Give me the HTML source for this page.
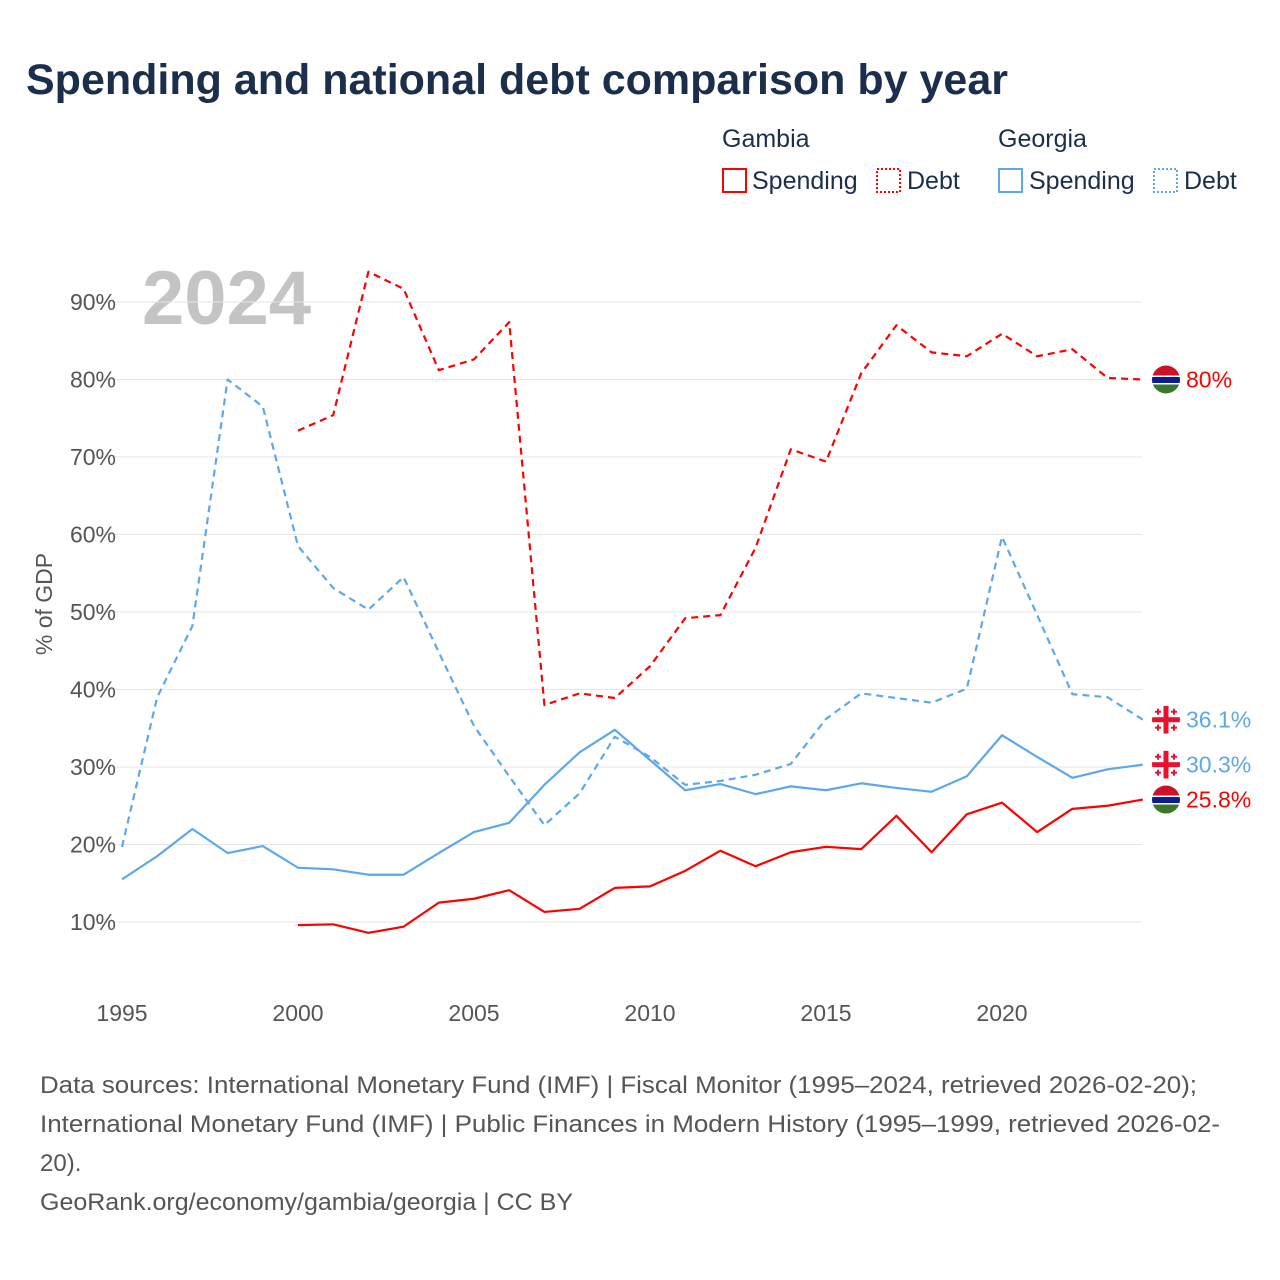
<!DOCTYPE html>
<html><head><meta charset="utf-8">
<style>
body{margin:0;background:#fff;font-family:"Liberation Sans",sans-serif;}
#wrap{position:relative;width:1280px;height:1280px;overflow:hidden;}
</style></head><body>
<div id="wrap">
<svg id="chart" width="1280" height="1280" xmlns="http://www.w3.org/2000/svg">
<text x="26" y="94" font-size="43" font-weight="bold" fill="#1b2f4d">Spending and national debt comparison by year</text>
<g font-size="25" fill="#1b2f4d">
<text x="722" y="147">Gambia</text>
<text x="998" y="147">Georgia</text>
<g><rect x="723" y="169" width="23" height="23" fill="none" stroke="#f00" stroke-width="2"/><text x="752" y="189">Spending</text></g>
<g><rect x="877" y="169" width="23" height="23" fill="none" stroke="#f00" stroke-width="2" stroke-dasharray="2,2"/><text x="907" y="189">Debt</text></g>
<g><rect x="999" y="169" width="23" height="23" fill="none" stroke="#5ea8ea" stroke-width="2"/><text x="1029" y="189">Spending</text></g>
<g><rect x="1154" y="169" width="23" height="23" fill="none" stroke="#5ea8ea" stroke-width="2" stroke-dasharray="2,2"/><text x="1184" y="189">Debt</text></g>
</g>
<text x="142" y="324" font-size="76" font-weight="bold" fill="#c4c4c4">2024</text>
<g id="grid"></g><g id="series"></g><g id="ends"></g>
<text transform="translate(52,604) rotate(-90)" text-anchor="middle" font-size="23" fill="#555">% of GDP</text>
<g font-size="24" fill="#555">
<text x="40" y="1093" textLength="1157" lengthAdjust="spacingAndGlyphs">Data sources: International Monetary Fund (IMF) | Fiscal Monitor (1995–2024, retrieved 2026-02-20);</text>
<text x="40" y="1132" textLength="1180" lengthAdjust="spacingAndGlyphs">International Monetary Fund (IMF) | Public Finances in Modern History (1995–1999, retrieved 2026-02-</text>
<text x="40" y="1171">20).</text>
<text x="40" y="1210" textLength="533" lengthAdjust="spacingAndGlyphs">GeoRank.org/economy/gambia/georgia | CC BY</text>
</g>
</svg>
</div>
<script>
const years=[];for(let y=1995;y<=2024;y++)years.push(y);
const yTicks=[10,20,30,40,50,60,70,80,90];
const xTicks=[1995,2000,2005,2010,2015,2020];
const gambiaSpending=[null,null,null,null,null,9.6,9.7,8.6,9.4,12.5,13,14.1,11.3,11.7,14.4,14.6,16.6,19.2,17.2,19,19.7,19.4,23.7,19,23.9,25.4,21.6,24.6,25,25.8];
const gambiaDebt=[null,null,null,null,null,73.4,75.4,93.9,91.7,81.2,82.6,87.4,38,39.5,38.9,43,49.2,49.6,58.3,71,69.4,80.8,87,83.5,83,85.9,83,83.9,80.2,80];
const georgiaSpending=[15.5,18.5,22,18.9,19.8,17,16.8,16.1,16.1,18.9,21.6,22.8,27.7,31.9,34.8,30.9,27,27.8,26.5,27.5,27,27.9,27.3,26.8,28.8,34.1,31.3,28.6,29.7,30.3];
const georgiaDebt=[19.7,39,48.2,80,76.5,58.5,53.1,50.3,54.5,44.8,35.3,28.8,22.5,26.6,33.9,31.3,27.7,28.2,29,30.4,36.2,39.5,38.9,38.3,40.1,59.7,49.6,39.4,39,36.1];
const X=y=>122+(y-1995)*35.2;
const Y=v=>922-(v-10)*7.75;
const NS="http://www.w3.org/2000/svg";
function mk(tag,attrs,parent){const e=document.createElementNS(NS,tag);for(const k in attrs)e.setAttribute(k,attrs[k]);parent.appendChild(e);return e;}
const grid=document.getElementById('grid');
yTicks.forEach(v=>{
 const l=mk('line',{x1:100,x2:1142,y1:Y(v),y2:Y(v),stroke:'#e6e6e6','stroke-width':1},grid);
 
 
 const t=mk('text',{x:116,y:Y(v)+8,'text-anchor':'end','font-size':23,fill:'#555'},grid);
 t.textContent=v+'%';
 
 
});
xTicks.forEach(y=>{
 const t=mk('text',{x:X(y),y:1021,'text-anchor':'middle','font-size':23,fill:'#555'},grid);
 t.textContent=y;
 
 
});
const ser=document.getElementById('series');
function line(data,color,dash,name){
 let d='';let pen=false;
 data.forEach((v,i)=>{if(v==null){pen=false;return;}d+=(pen?'L':'M')+X(years[i])+','+Y(v);pen=true;});
 const p=mk('path',{d:d,fill:'none',stroke:color,'stroke-width':2.2,'stroke-dasharray':dash||'none','stroke-linejoin':'round'},ser);
 
 
}
line(georgiaDebt,'#5ea8ea','7,5','line-georgia-debt');
line(georgiaSpending,'#5ea8ea',null,'line-georgia-spending');
line(gambiaDebt,'#f00','7,5','line-gambia-debt');
line(gambiaSpending,'#f00',null,'line-gambia-spending');
const ends=document.getElementById('ends');
function flag(cx,cy,type,name){
 const g=mk('g',{},ends);
 
 
 const id='c'+Math.round(cy);
 const cp=mk('clipPath',{id:id},g);mk('circle',{cx:cx,cy:cy,r:14},cp);
 const h=mk('g',{'clip-path':'url(#'+id+')'},g);
 if(type==='gm'){
  mk('rect',{x:cx-14,y:cy-14,width:28,height:10,fill:'#ce1126'},h);
  mk('rect',{x:cx-14,y:cy-4,width:28,height:9,fill:'#fff'},h);
  mk('rect',{x:cx-14,y:cy-2.5,width:28,height:6,fill:'#0c1c8c'},h);
  mk('rect',{x:cx-14,y:cy+5,width:28,height:10,fill:'#3a7728'},h);
 }else{
  mk('rect',{x:cx-14,y:cy-14,width:28,height:28,fill:'#fff'},h);
  mk('rect',{x:cx-14,y:cy-2.5,width:28,height:5,fill:'#e8112d'},h);
  mk('rect',{x:cx-2.5,y:cy-14,width:5,height:28,fill:'#e8112d'},h);
  [[-8,-8],[8,-8],[-8,8],[8,8]].forEach(o=>{mk('rect',{x:cx+o[0]-1,y:cy+o[1]-3,width:2,height:6,fill:'#e8112d'},h);mk('rect',{x:cx+o[0]-3,y:cy+o[1]-1,width:6,height:2,fill:'#e8112d'},h);});
 }
}
const last=years.length-1;
const endDefs=[[gambiaDebt,'gm','#f00','80%','end-gambia-debt'],[georgiaDebt,'ge','#5ea8ea','36.1%','end-georgia-debt'],[georgiaSpending,'ge','#5ea8ea','30.3%','end-georgia-spending'],[gambiaSpending,'gm','#f00','25.8%','end-gambia-spending']];
endDefs.forEach(e=>{
 const v=e[0][last];
 flag(1166,Y(v),e[1],e[4]+'-flag');
 const t=mk('text',{x:1186,y:Y(v)+8,'font-size':23,fill:e[2]},ends);
 t.textContent=(Math.round(v*10)/10)+'%';
 
 
});
</script>
</body></html>
